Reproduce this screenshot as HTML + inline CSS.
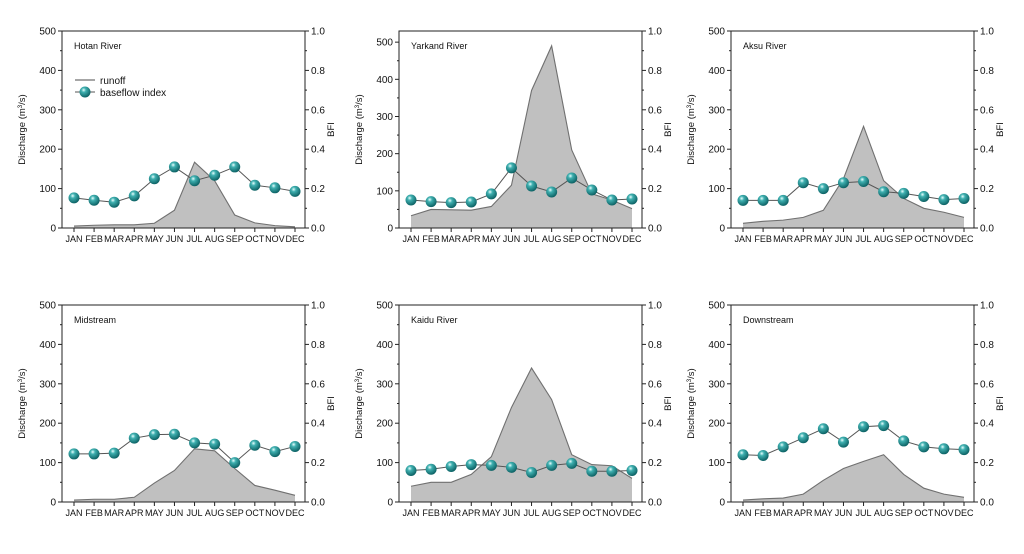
<!DOCTYPE html>
<html><head><meta charset="utf-8"><style>
body{margin:0;background:#fff;width:1024px;height:549px;overflow:hidden}
svg text{font-family:"Liberation Sans",sans-serif;fill:#111}
</style></head><body>
<svg id="c" width="1024" height="549">
<defs><radialGradient id="ball" cx="0.38" cy="0.32" r="0.7"><stop offset="0" stop-color="#e8ffff"/><stop offset="0.3" stop-color="#3fb0b0"/><stop offset="1" stop-color="#0b5f62"/></radialGradient></defs>
</svg>
<script>
const months=["JAN","FEB","MAR","APR","MAY","JUN","JUL","AUG","SEP","OCT","NOV","DEC"];
const panelNames=["Hotan River","Yarkand River","Aksu River","Midstream","Kaidu River","Downstream"];
const runoffHotan=[5,7,8,8,12,45,167,120,33,13,6,3];
const bfiHotan=[0.153,0.141,0.131,0.163,0.25,0.31,0.24,0.268,0.31,0.217,0.204,0.186];
const runoffYarkand=[33,50,49,48,58,115,370,490,210,92,75,52];
const bfiYarkand=[0.142,0.134,0.129,0.132,0.173,0.305,0.213,0.183,0.254,0.193,0.142,0.147];
const runoffAksu=[12,17,20,27,45,125,258,120,75,50,40,27];
const bfiAksu=[0.14,0.14,0.14,0.23,0.2,0.23,0.236,0.184,0.176,0.16,0.144,0.15];
const runoffMid=[5,7,7,12,48,80,135,130,85,42,30,17];
const bfiMid=[0.244,0.244,0.248,0.324,0.342,0.344,0.3,0.294,0.2,0.288,0.256,0.282];
const runoffKaidu=[40,50,50,70,115,240,340,260,120,95,92,60];
const bfiKaidu=[0.16,0.166,0.18,0.19,0.186,0.176,0.15,0.186,0.196,0.156,0.156,0.16];
const runoffDown=[5,8,10,20,55,85,103,120,70,35,20,12];
const bfiDown=[0.24,0.236,0.28,0.326,0.372,0.304,0.382,0.388,0.31,0.28,0.27,0.266];
const leftTicks=[0,100,200,300,400,500];
const rightTicks=[0,0.2,0.4,0.6,0.8,1.0];
const runoffs=[runoffHotan,runoffYarkand,runoffAksu,runoffMid,runoffKaidu,runoffDown];
const bfis=[bfiHotan,bfiYarkand,bfiAksu,bfiMid,bfiKaidu,bfiDown];
const leftMax=[500,530,500,500,500,500];

const svg=document.getElementById('c');const NS="http://www.w3.org/2000/svg";
function mk(t,a,p){const e=document.createElementNS(NS,t);for(const k in a)e.setAttribute(k,a[k]);(p||svg).appendChild(e);return e;}
const lefts=[62,399,731],tops=[31,305],W=243,H=197;
for(let i=0;i<6;i++){
 const x0=lefts[i%3],y0=tops[Math.floor(i/3)],x1=x0+W,y1=y0+H;
 const g=mk('g',{});
 
 
 const xs=m=>x0+12+m*(W-22)/11;
 const ysL=v=>y1-v/leftMax[i]*H;
 const ysR=v=>y1-v*H;
 // area
 let d='M'+xs(0)+','+y1;
 runoffs[i].forEach((v,m)=>d+=' L'+xs(m)+','+ysL(v));
 d+=' L'+xs(11)+','+y1+' Z';
 const ar=mk('path',{d:d,fill:'#c0c0c0',stroke:'none'},g);
 
 
 mk('polyline',{points:runoffs[i].map((v,m)=>xs(m)+','+ysL(v)).join(' '),fill:'none',stroke:'#707070','stroke-width':1.1},g);
 mk('polyline',{points:bfis[i].map((v,m)=>xs(m)+','+ysR(v)).join(' '),fill:'none',stroke:'#555','stroke-width':1},g);
 bfis[i].forEach((v,m)=>{const c=mk('circle',{cx:xs(m),cy:ysR(v),r:5.5,fill:'url(#ball)'},g);
  
  });
 mk('rect',{x:x0,y:y0,width:W,height:H,fill:'none',stroke:'#222','stroke-width':1},g);
 leftTicks.forEach(v=>{const y=ysL(v);mk('line',{x1:x0-4,x2:x0,y1:y,y2:y,stroke:'#222'},g);
  const t=mk('text',{x:x0-6,y:y+3.5,'text-anchor':'end','font-size':10},g);t.textContent=v;
  if(v<500){const ym=ysL(v+50);mk('line',{x1:x0-2,x2:x0,y1:ym,y2:ym,stroke:'#222'},g);}});
 rightTicks.forEach(v=>{const y=ysR(v);mk('line',{x1:x1,x2:x1+4,y1:y,y2:y,stroke:'#222'},g);
  const t=mk('text',{x:x1+6,y:y+3.5,'font-size':10},g);t.textContent=v.toFixed(1);
  if(v<1){const ym=ysR(v+0.1);mk('line',{x1:x1,x2:x1+2,y1:ym,y2:ym,stroke:'#222'},g);}});
 months.forEach((mo,m)=>{mk('line',{x1:xs(m),x2:xs(m),y1:y1,y2:y1+4,stroke:'#222'},g);
  const t=mk('text',{x:xs(m),y:y1+14,'text-anchor':'middle','font-size':9},g);t.textContent=mo;});
 const tt=mk('text',{x:x0+12,y:y0+18,'font-size':9},g);tt.textContent=panelNames[i];
 
 const yl=mk('text',{transform:`translate(${x0-37},${(y0+y1)/2}) rotate(-90)`,'text-anchor':'middle','font-size':9.5},g);
 yl.innerHTML='Discharge (m<tspan dy="-3" font-size="6">3</tspan><tspan dy="3">/s)</tspan>';
 
 const yr=mk('text',{transform:`translate(${x1+29},${(y0+y1)/2}) rotate(-90)`,'text-anchor':'middle','font-size':9.5},g);yr.textContent='BFI';
 
}
// legend
const lg=mk('g',{});


mk('line',{x1:75,x2:95,y1:80,y2:80,stroke:'#707070','stroke-width':1.2},lg);
let t=mk('text',{x:100,y:84,'font-size':10},lg);t.textContent='runoff';
mk('line',{x1:75,x2:95,y1:92,y2:92,stroke:'#555'},lg);
mk('circle',{cx:85,cy:92,r:5.5,fill:'url(#ball)'},lg);
t=mk('text',{x:100,y:96,'font-size':10},lg);t.textContent='baseflow index';
</script>
</body></html>
